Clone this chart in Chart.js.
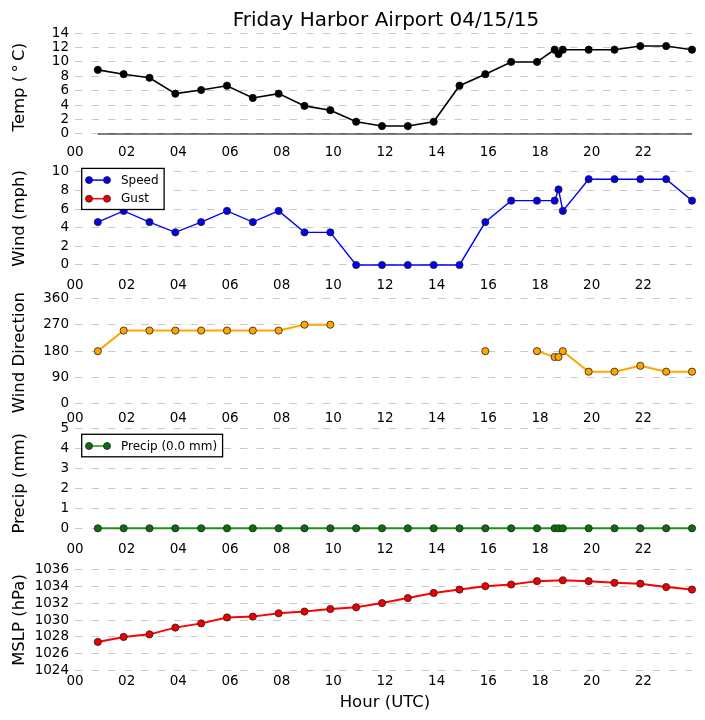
<!DOCTYPE html>
<html><head><meta charset="utf-8">
<script src="https://cdn.jsdelivr.net/npm/chart.js@4.4.1/dist/chart.umd.min.js"></script>
<style>
html,body{margin:0;padding:0;background:#fff;}
#wrap{position:relative;width:705px;height:720px;overflow:hidden;font-family:'DejaVu Sans';}
canvas{position:absolute;left:0;}
.txt{position:absolute;text-align:center;color:#000;white-space:nowrap;z-index:5;}
</style></head><body>
<div id="wrap">
<div class="txt" style="left:186px;width:400px;top:6px;font-size:20px;line-height:26px;">Friday Harbor Airport 04/15/15</div>
<div class="txt" style="left:285px;width:200px;top:692px;font-size:16.5px;line-height:20px;">Hour (UTC)</div>
</div>
<script>
// ---- data ----
const obsTimes = ['00:53','01:53','02:53','03:53','04:53','05:53','06:53','07:53','08:53','09:53','10:53','11:53','12:53','13:53','14:53','15:53','16:53','17:53','18:34','18:43','18:53','19:53','20:53','21:53','22:53','23:53'];
const tempC = [8.9,8.3,7.8,5.6,6.1,6.7,5.0,5.6,3.9,3.3,1.7,1.1,1.1,1.7,6.7,8.3,10.0,10.0,11.7,11.1,11.7,11.7,11.7,12.2,12.2,11.7];
const tempBase = [0,0,0,0,0,0,0,0,0,0,0,0,0,0,0,0,0,0,0,0,0,0,0,0,0,0];
const windSpeed = [4.6,5.8,4.6,3.5,4.6,5.8,4.6,5.8,3.5,3.5,0,0,0,0,0,4.6,6.9,6.9,6.9,8.1,5.8,9.2,9.2,9.2,9.2,6.9];
const windGust = [null,null,null,null,null,null,null,null,null,null,null,null,null,null,null,null,null,null,null,null,null,null,null,null,null,null];
const windDir = [180,250,250,250,250,250,250,250,270,270,null,null,null,null,null,180,null,180,160,160,180,110,110,130,110,110];
const precip = [0,0,0,0,0,0,0,0,0,0,0,0,0,0,0,0,0,0,0,0,0,0,0,0,0,0];
const mslp = [1027.4,1028.0,1028.3,1029.1,1029.6,1030.3,1030.4,1030.8,1031.0,1031.3,1031.5,1032.0,1032.6,1033.2,1033.6,1034.0,1034.2,1034.6,null,null,1034.7,1034.6,1034.4,1034.3,1033.9,1033.6];
const xTickValues = [0,2,4,6,8,10,12,14,16,18,20,22];
const xTickLabels = ['00','02','04','06','08','10','12','14','16','18','20','22'];
const tempTicks = [0,2,4,6,8,10,12,14];
const windTicks = [0,2,4,6,8,10];
const dirTicks = [0,90,180,270,360];
const precipTicks = [0,1,2,3,4,5];
const mslpTicks = [1024,1026,1028,1030,1032,1034,1036];

// ---- helpers ----
Chart.defaults.font.family = "'DejaVu Sans'";
Chart.defaults.color = '#000';
const hours = obsTimes.map(t => { const p = t.split(':'); return +p[0] + (+p[1]) / 60; });
const xy = vals => hours.map((h, i) => ({x: h, y: vals[i]}));
const wrap = document.getElementById('wrap');
const W = 705, PLOT_LEFT = 75, PLOT_RIGHT = 692, PAD_TOP = 14, XAX_H = 28;

function legendPlugin(items) {
  return {
    id: 'boxLegend',
    afterDraw(chart) {
      if (!items) return;
      const ctx = chart.ctx, a = chart.chartArea;
      ctx.save();
      ctx.font = "12px 'DejaVu Sans'";
      const tw = Math.max(...items.map(it => ctx.measureText(it.text).width));
      const x0 = a.left + 6.7, y0 = a.top + 6;
      const w = 7.3 + 18 + 14 + tw + 5.5;
      const h = 11.7 + (items.length - 1) * 18.6 + 10.8;
      ctx.fillStyle = '#fff';
      ctx.fillRect(x0, y0, w, h);
      ctx.strokeStyle = '#000';
      ctx.lineWidth = 1.3;
      ctx.strokeRect(x0, y0, w, h);
      items.forEach((it, i) => {
        const y = y0 + 11.7 + i * 18.6;
        ctx.strokeStyle = it.line; ctx.lineWidth = 1.5;
        ctx.beginPath(); ctx.moveTo(x0 + 7.3, y); ctx.lineTo(x0 + 25.3, y); ctx.stroke();
        [x0 + 7.3, x0 + 25.3].forEach(px => {
          ctx.beginPath(); ctx.arc(px, y, 3.5, 0, Math.PI * 2);
          ctx.fillStyle = it.fill; ctx.fill();
          ctx.strokeStyle = '#222'; ctx.lineWidth = 0.8; ctx.stroke();
        });
        ctx.fillStyle = '#000'; ctx.textBaseline = 'middle'; ctx.textAlign = 'left';
        ctx.fillText(it.text, x0 + 39.3, y + 0.5);
      });
      ctx.restore();
    }
  };
}

function makePanel(cfg) {
  const canvasTop = Math.floor(cfg.pxTop - PAD_TOP);
  const padTop = cfg.pxTop - canvasTop;
  const canvasH = Math.ceil(cfg.pxBottom - canvasTop + XAX_H);
  const xAxH = canvasH - (cfg.pxBottom - canvasTop);
  const c = document.createElement('canvas');
  c.width = W; c.height = canvasH;
  c.style.top = canvasTop + 'px';
  c.style.width = W + 'px'; c.style.height = canvasH + 'px';
  wrap.appendChild(c);
  const legendItems = cfg.legend ? cfg.datasets.filter(d => d.inLegend).map(d => ({text: d.label, line: d.borderColor, fill: d.pointBackgroundColor})) : null;
  new Chart(c, {
    type: 'line',
    data: {datasets: cfg.datasets},
    plugins: [legendPlugin(legendItems)],
    options: {
      responsive: false, animation: false, devicePixelRatio: 1,
      layout: {padding: {top: padTop, bottom: 0, left: 0, right: W - PLOT_RIGHT}},
      plugins: {legend: {display: false}, tooltip: {enabled: false}, title: {display: false}},
      scales: {
        x: {
          type: 'linear', min: 0, max: hours[hours.length - 1],
          afterBuildTicks: s => { s.ticks = xTickValues.map(v => ({value: v})); },
          afterFit: s => { s.height = xAxH; },
          grid: {display: false, drawTicks: false},
          border: {display: false},
          ticks: {autoSkip: false, maxRotation: 0, padding: cfg.xPad, font: {size: 13.5},
                  callback: (v, i) => xTickLabels[i]}
        },
        y: {
          min: cfg.yMin, max: cfg.yMax,
          afterBuildTicks: s => { s.ticks = cfg.yTicks.map(v => ({value: v})); },
          afterFit: s => { s.width = PLOT_LEFT; },
          grid: {color: '#c8c8c8', lineWidth: 1, drawTicks: false},
          border: {display: false, dash: [7.5, 9]},
          ticks: {autoSkip: false, padding: 6, font: {size: 13.5}, callback: v => String(v)},
          title: {display: true, text: cfg.yTitle, font: {size: 16.5}, padding: {top: 10, bottom: 0}}
        }
      }
    }
  });
}

const pt = (fill, r) => ({pointBackgroundColor: fill, pointBorderColor: '#222', pointBorderWidth: 0.8, pointRadius: r || 3.6, clip: false});

makePanel({
  pxTop: 33, pxBottom: 141.2, yMin: -1, yMax: 14, yTicks: tempTicks, yTitle: 'Temp (\u2009°\u2009C)', xPad: 3,
  datasets: [
    {label: 'Base', data: xy(tempBase), borderColor: '#000', borderWidth: 1.2, pointRadius: 0, clip: false},
    Object.assign({label: 'Temp', data: xy(tempC), borderColor: '#000', borderWidth: 1.6}, pt('#000'), {pointBorderColor: '#000'})
  ]
});
makePanel({
  pxTop: 162.4, pxBottom: 274.3, yMin: -1, yMax: 11, yTicks: windTicks, yTitle: 'Wind (mph)', xPad: 3, legend: true,
  datasets: [
    Object.assign({label: 'Speed', inLegend: true, data: xy(windSpeed), borderColor: '#0000ff', borderWidth: 1.4}, pt('#0000ee')),
    Object.assign({label: 'Gust', inLegend: true, data: xy(windGust), borderColor: '#ff0000', borderWidth: 1.4}, pt('#ee0000'))
  ]
});
makePanel({
  pxTop: 298.3, pxBottom: 406.9, yMin: -10, yMax: 360, yTicks: dirTicks, yTitle: 'Wind Direction', xPad: 3,
  datasets: [
    Object.assign({label: 'Direction', data: xy(windDir), borderColor: '#ffa500', borderWidth: 2, spanGaps: false}, pt('#ffa500'))
  ]
});
makePanel({
  pxTop: 428.3, pxBottom: 538.3, yMin: -0.5, yMax: 5, yTicks: precipTicks, yTitle: 'Precip (mm)', xPad: 3, legend: true,
  datasets: [
    Object.assign({label: 'Precip (0.0 mm)', inLegend: true, data: xy(precip), borderColor: '#1f8f1f', borderWidth: 2}, pt('#0b700b'))
  ]
});
makePanel({
  pxTop: 569.3, pxBottom: 670.7, yMin: 1024, yMax: 1036, yTicks: mslpTicks, yTitle: 'MSLP (hPa)', xPad: 3,
  datasets: [
    Object.assign({label: 'MSLP', data: xy(mslp), borderColor: '#ff0000', borderWidth: 2, spanGaps: true}, pt('#ee0000'))
  ]
});
</script>
</body></html>
